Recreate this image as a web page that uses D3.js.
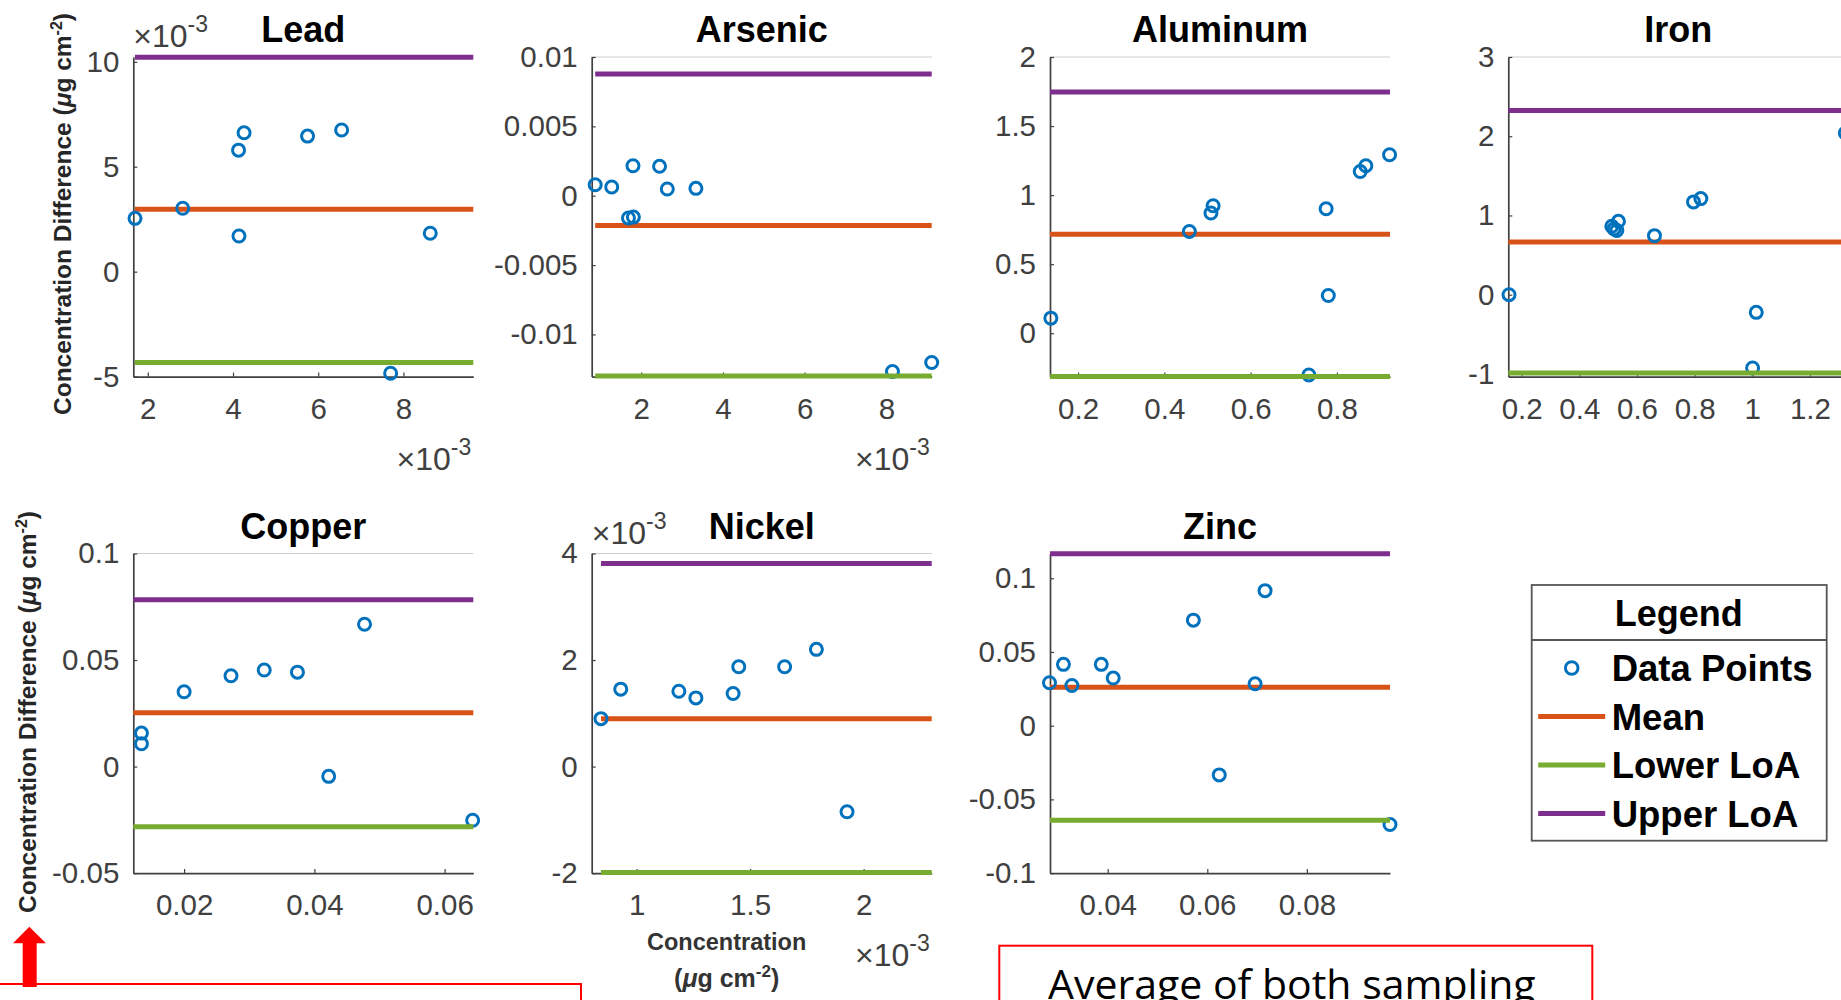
<!DOCTYPE html>
<html><head><meta charset="utf-8">
<script src="https://cdn.jsdelivr.net/npm/d3@7"></script>
<style>html,body{margin:0;padding:0;background:#fff;overflow:hidden}</style>
</head><body>
<svg id="chart" width="1841" height="1000"></svg>
<script>
// ---------------- DATA (µg cm^-2) ----------------
const seriesNames = ["Data Points", "Mean", "Lower LoA", "Upper LoA"];
const yAxisTitle = "Concentration Difference";
const xAxisTitle = "Concentration";

// Lead
const leadX = [0.00170, 0.00282, 0.00413, 0.00426, 0.00414, 0.00575, 0.00655, 0.00770, 0.00863];
const leadY = [0.00254, 0.00302, 0.00579, 0.00662, 0.00170, 0.00646, 0.00675, -0.00484, 0.00183];
const leadLoA = [0.00297, -0.00433, 0.01022];           // mean, lower, upper
const leadXDomain = [0.00166, 0.00964];
const leadYDomain = [-0.005, 0.01023];
const leadXTicks = [0.002, 0.004, 0.006, 0.008];
const leadYTicks = [-0.005, 0, 0.005, 0.01];

// Arsenic
const arsenicX = [0.000875, 0.00128, 0.00180, 0.00245, 0.00264, 0.00334, 0.00169, 0.00181, 0.00815, 0.00911];
const arsenicY = [0.00079, 0.000625, 0.00216, 0.00212, 0.00048, 0.00053, -0.00161, -0.00154, -0.01267, -0.01202];
const arsenicLoA = [-0.00214, -0.01300, 0.00877];
const arsenicXDomain = [0.00079, 0.00911];
const arsenicYDomain = [-0.01304, 0.01];
const arsenicXTicks = [0.002, 0.004, 0.006, 0.008];
const arsenicYTicks = [-0.01, -0.005, 0, 0.005, 0.01];

// Aluminum
const aluminumX = [0.137, 0.458, 0.508, 0.513, 0.775, 0.780, 0.735, 0.854, 0.867, 0.922];
const aluminumY = [0.109, 0.737, 0.870, 0.923, 0.901, 0.273, -0.302, 1.171, 1.213, 1.292];
const aluminumLoA = [0.717, -0.314, 1.746];
const aluminumXDomain = [0.135, 0.923];
const aluminumYDomain = [-0.314, 2];
const aluminumXTicks = [0.2, 0.4, 0.6, 0.8];
const aluminumYTicks = [0, 0.5, 1, 1.5, 2];

// Iron
const ironX = [0.156, 0.5125, 0.5206, 0.5356, 0.530, 0.6606, 0.796, 0.8215, 1.0137, 1.001, 1.3227];
const ironY = [0.0, 0.863, 0.830, 0.926, 0.810, 0.745, 1.171, 1.213, -0.223, -0.926, 2.04];
const ironLoA = [0.665, -0.99, 2.324];
const ironXDomain = [0.1535, 1.333];
const ironYDomain = [-1.034, 3];
const ironXTicks = [0.2, 0.4, 0.6, 0.8, 1, 1.2];
const ironYTicks = [-1, 0, 1, 2, 3];

// Copper
const copperX = [0.01345, 0.01345, 0.0200, 0.0272, 0.0323, 0.0374, 0.0422, 0.0477, 0.0643];
const copperY = [0.0157, 0.0107, 0.0351, 0.0426, 0.0453, 0.0443, -0.0046, 0.0668, -0.0252];
const copperLoA = [0.0252, -0.0283, 0.0783];
const copperXDomain = [0.0122, 0.0644];
const copperYDomain = [-0.05, 0.1];
const copperXTicks = [0.02, 0.04, 0.06];
const copperYTicks = [-0.05, 0, 0.05, 0.1];

// Nickel
const nickelX = [0.000843, 0.000930, 0.001186, 0.001261, 0.001425, 0.001450, 0.001652, 0.001792, 0.001927];
const nickelY = [0.00090, 0.001453, 0.001415, 0.001289, 0.001371, 0.001874, 0.001874, 0.002201, -0.000849];
const nickelLoA = [0.00090, -0.00199, 0.00381];
const nickelXDomain = [0.000802, 0.00230];
const nickelYDomain = [-0.002, 0.004];
const nickelXTicks = [0.001, 0.0015, 0.002];
const nickelYTicks = [-0.002, 0, 0.002, 0.004];

// Zinc
const zincX = [0.0283, 0.0311, 0.0328, 0.0387, 0.0411, 0.0572, 0.0624, 0.0696, 0.0716, 0.0967];
const zincY = [0.0291, 0.0416, 0.0273, 0.0416, 0.0323, 0.0716, -0.0334, 0.0284, 0.0916, -0.0670];
const zincLoA = [0.0261, -0.0641, 0.1166];
const zincXDomain = [0.0284, 0.0967];
const zincYDomain = [-0.1, 0.1168];
const zincXTicks = [0.04, 0.06, 0.08];
const zincYTicks = [-0.1, -0.05, 0, 0.05, 0.1];

// ---------------- STYLE / LAYOUT ----------------
const COLORS = {pts: "#0072BD", mean: "#D95319", lower: "#77AC30", upper: "#7E2F8E"};
const FONT = "'Liberation Sans', Arial, Helvetica, sans-serif";
const colLeft = [133.3, 591.7, 1050, 1508.3];
const rowTop = [57, 553.5];
const PW = 340, PH = 319.6;

const panels = [
  {title: "Lead", c: 0, r: 0, x: leadX, y: leadY, loa: leadLoA, xd: leadXDomain, yd: leadYDomain, xt: leadXTicks, yt: leadYTicks, xe: 1e-3, ye: 1e-3, ls: leadX[0]},
  {title: "Arsenic", c: 1, r: 0, x: arsenicX, y: arsenicY, loa: arsenicLoA, xd: arsenicXDomain, yd: arsenicYDomain, xt: arsenicXTicks, yt: arsenicYTicks, xe: 1e-3, ye: 1, ls: arsenicX[0]},
  {title: "Aluminum", c: 2, r: 0, x: aluminumX, y: aluminumY, loa: aluminumLoA, xd: aluminumXDomain, yd: aluminumYDomain, xt: aluminumXTicks, yt: aluminumYTicks, xe: 1, ye: 1, ls: aluminumXDomain[0]},
  {title: "Iron", c: 3, r: 0, x: ironX, y: ironY, loa: ironLoA, xd: ironXDomain, yd: ironYDomain, xt: ironXTicks, yt: ironYTicks, xe: 1, ye: 1, ls: ironXDomain[0]},
  {title: "Copper", c: 0, r: 1, x: copperX, y: copperY, loa: copperLoA, xd: copperXDomain, yd: copperYDomain, xt: copperXTicks, yt: copperYTicks, xe: 1, ye: 1, ls: copperXDomain[0]},
  {title: "Nickel", c: 1, r: 1, x: nickelX, y: nickelY, loa: nickelLoA, xd: nickelXDomain, yd: nickelYDomain, xt: nickelXTicks, yt: nickelYTicks, xe: 1e-3, ye: 1e-3, ls: nickelX[0]},
  {title: "Zinc", c: 2, r: 1, x: zincX, y: zincY, loa: zincLoA, xd: zincXDomain, yd: zincYDomain, xt: zincXTicks, yt: zincYTicks, xe: 1, ye: 1, ls: zincXDomain[0]}
];

const fmt = (v, e) => String(+(v / e).toPrecision(6));

const svg = d3.select("#chart").style("font-family", FONT);

function expLabel(g, x, y, anchor) {
  const t = g.append("text").attr("x", x).attr("y", y).attr("text-anchor", anchor)
    .attr("fill", "#404040").style("font-size", "32px");
  t.append("tspan").text("\u00D710");
  t.append("tspan").attr("dy", -15).style("font-size", "23px").text("-3");
}

panels.forEach(p => {
  const g = svg.append("g").attr("transform", `translate(${colLeft[p.c]},${rowTop[p.r]})`);
  const x = d3.scaleLinear().domain(p.xd).range([0, PW]);
  const y = d3.scaleLinear().domain(p.yd).range([PH, 0]);

  // light box top
  g.append("line").attr("x1", 0).attr("x2", PW).attr("y1", 0).attr("y2", 0)
    .attr("stroke", "#cfcfcf").attr("stroke-width", 1.2);

  const xAxis = g.append("g").attr("transform", `translate(0,${PH})`)
    .call(d3.axisBottom(x).tickValues(p.xt).tickSize(-4).tickSizeOuter(0).tickPadding(21)
      .tickFormat(d => fmt(d, p.xe)));
  const yAxis = g.append("g")
    .call(d3.axisLeft(y).tickValues(p.yt).tickSize(-4).tickSizeOuter(0).tickPadding(14)
      .tickFormat(d => fmt(d, p.ye)));
  [xAxis, yAxis].forEach(a => {
    a.select(".domain").attr("stroke", "#404040").attr("stroke-width", 1.7);
    a.selectAll(".tick line").attr("stroke", "#404040").attr("stroke-width", 1.2);
    a.selectAll(".tick text").attr("fill", "#404040").style("font-size", "29.5px").style("font-family", FONT);
  });

  const hline = (v, col) => g.append("line")
    .attr("x1", x(p.ls)).attr("x2", PW).attr("y1", y(v)).attr("y2", y(v))
    .attr("stroke", col).attr("stroke-width", 5);

  hline(p.loa[0], COLORS.mean);
  g.selectAll("circle.pt").data(p.x.map((v, i) => [v, p.y[i]])).join("circle")
    .attr("class", "pt").attr("cx", d => x(d[0])).attr("cy", d => y(d[1])).attr("r", 6)
    .attr("fill", "none").attr("stroke", COLORS.pts).attr("stroke-width", 3);
  hline(p.loa[1], COLORS.lower);
  hline(p.loa[2], COLORS.upper);

  g.append("text").attr("x", PW / 2).attr("y", -15).attr("text-anchor", "middle")
    .attr("font-weight", "bold").style("font-size", "36px").attr("fill", "#000").text(p.title);

  if (p.ye !== 1) expLabel(g, 0, -10, "start");
  if (p.xe !== 1) expLabel(g, PW - 2, PH + 93, "end");
});

// y axis titles
function yTitle(cx, cy) {
  const t = svg.append("text").attr("transform", `translate(${cx},${cy}) rotate(-90)`)
    .attr("text-anchor", "middle").attr("font-weight", "bold").attr("fill", "#262626")
    .style("font-size", "24.5px");
  t.append("tspan").text(yAxisTitle + " (");
  t.append("tspan").style("font-style", "italic").text("\u03BC");
  t.append("tspan").text("g cm");
  t.append("tspan").attr("dy", -9).style("font-size", "16px").text("-2");
  t.append("tspan").attr("dy", 9).text(")");
}
yTitle(71, 214);
yTitle(36, 712);

// x axis title (under Nickel)
{
  const cx = colLeft[1] + 135;
  svg.append("text").attr("x", cx).attr("y", 950).attr("text-anchor", "middle")
    .attr("font-weight", "bold").attr("fill", "#333").style("font-size", "23.5px").text(xAxisTitle);
  const t = svg.append("text").attr("x", cx).attr("y", 987).attr("text-anchor", "middle")
    .attr("font-weight", "bold").attr("fill", "#333").style("font-size", "25px");
  t.append("tspan").text("(");
  t.append("tspan").style("font-style", "italic").text("\u03BC");
  t.append("tspan").text("g cm");
  t.append("tspan").attr("dy", -10).style("font-size", "17px").text("-2");
  t.append("tspan").attr("dy", 10).text(")");
}

// legend
{
  const L = {x: 1531.7, y: 585, w: 295, h: 255.7};
  const lg = svg.append("g").attr("transform", `translate(${L.x},${L.y})`);
  lg.append("rect").attr("width", L.w).attr("height", L.h).attr("fill", "#fff")
    .attr("stroke", "#555").attr("stroke-width", 1.8);
  lg.append("line").attr("x1", 0).attr("x2", L.w).attr("y1", 55).attr("y2", 55)
    .attr("stroke", "#555").attr("stroke-width", 1.8);
  lg.append("text").attr("x", 147).attr("y", 41).attr("text-anchor", "middle")
    .attr("font-weight", "bold").style("font-size", "36px").attr("fill", "#000").text("Legend");
  const rowsY = [83, 131.5, 180, 228.5];
  const lineCols = [null, COLORS.mean, COLORS.lower, COLORS.upper];
  seriesNames.forEach((s, i) => {
    if (i === 0) {
      lg.append("circle").attr("cx", 40).attr("cy", rowsY[i]).attr("r", 6.3)
        .attr("fill", "none").attr("stroke", COLORS.pts).attr("stroke-width", 3);
    } else {
      lg.append("line").attr("x1", 6.5).attr("x2", 73.5).attr("y1", rowsY[i]).attr("y2", rowsY[i])
        .attr("stroke", lineCols[i]).attr("stroke-width", 5);
    }
    lg.append("text").attr("x", 80).attr("y", rowsY[i] + 13).attr("font-weight", "bold")
      .style("font-size", "36.5px").attr("fill", "#000").text(s);
  });
}

// slide annotations (red)
svg.append("rect").attr("x", -3).attr("y", 984).attr("width", 584).attr("height", 60)
  .attr("fill", "none").attr("stroke", "#FF0000").attr("stroke-width", 2);
svg.append("path").attr("d", "M29.3,926.7 L46,943.3 L36.7,943.3 L36.7,987 L22.7,987 L22.7,943.3 L13,943.3 Z")
  .attr("fill", "#FF0000");
svg.append("rect").attr("x", 999.3).attr("y", 945.7).attr("width", 593).attr("height", 80)
  .attr("fill", "#fff").attr("stroke", "#FF0000").attr("stroke-width", 2);
svg.append("text").attr("x", 1048).attr("y", 999).style("font-family", "'Open Sans', 'Noto Sans', sans-serif")
  .style("font-size", "41px").attr("fill", "#000").text("Average of both sampling");
</script>
</body></html>
